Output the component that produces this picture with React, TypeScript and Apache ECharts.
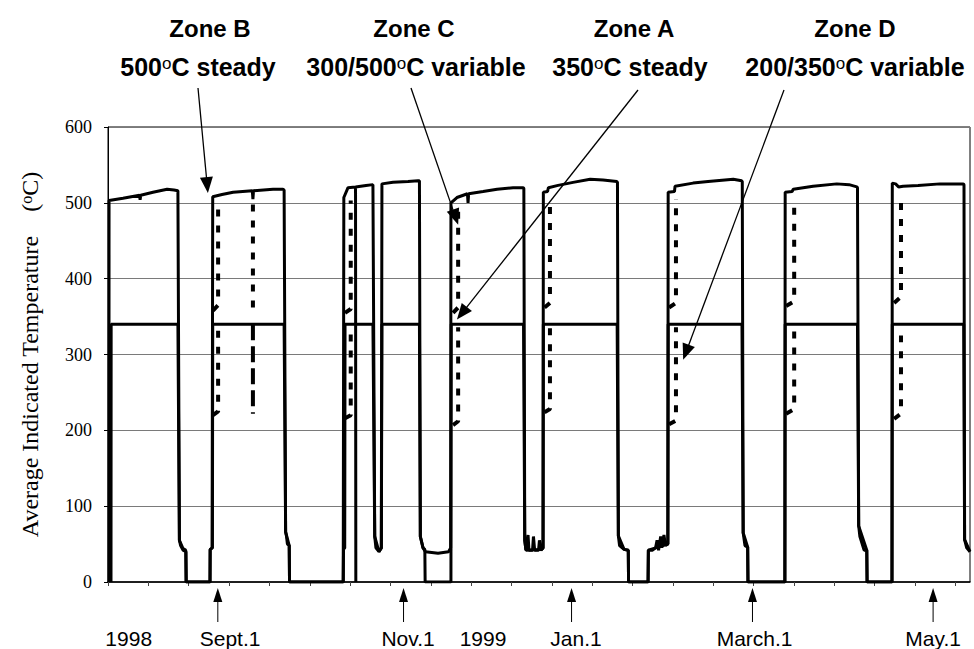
import React, { useEffect, useRef } from 'react';
import * as echarts from 'echarts';

// x values are days from the left edge of the record (about 3 px per day)
const X_MAX = 287.3;

// Zone B: 500 °C steady (upper solid trace)
const zoneB: any[] = [
  [0.3, 0], [0.35, 503], [5, 506], [10.5, 510], [10.7, 504], [10.9, 510], [15, 514], [19.7, 518], [22, 517], [23.3, 516],
  [23.8, 55], [24.2, 48], [25, 42], [26, 40], [26.1, 0],
  [34, 0], [34.05, 43], [34.7, 45], [34.9, 508], [38, 511], [41.7, 514], [48.1, 516], [48.3, 505], [48.5, 516], [55, 518], [58.3, 518],
  [58.7, 517], [59.2, 66], [59.5, 60], [59.8, 50], [60.4, 48], [60.5, 0],
  [78.4, 0], [78.6, 507], [80, 520], [82.5, 521], [82.6, 0], [82.6, null], [82.5, 521], [86, 523], [88.3, 524],
  [88.5, 524], [88.9, 60], [89.3, 45], [90.3, 40], [91.1, 45], [91.3, 525], [95, 527], [100, 528], [103.3, 529],
  [103.8, 529], [104.1, 60], [105, 45], [105.8, 40], [110, 38], [113.5, 40], [114.2, 45], [114.3, 500], [116.3, 507],
  [119.8, 512], [120, 500], [120.2, 512], [125, 515], [129.7, 518], [135, 520], [138.4, 520],
  [138.6, 519], [138.9, 55], [139.3, 42], [140, 62], [140.3, 42], [141.5, 42], [141.8, 60], [142.2, 42], [143.5, 42],
  [143.8, 55], [144.3, 42], [145, 45], [145.1, 514], [146.5, 515], [146.8, 520], [150, 523], [155, 527], [160.7, 531],
  [165, 530], [169.6, 528],
  [169.8, 527], [170.1, 61], [170.5, 48], [172, 43], [173.4, 42], [173.5, 0], [180, 0], [180.1, 42], [181.5, 42],
  [182.5, 45], [183, 55], [183.5, 42], [184.2, 60], [184.6, 45], [185.3, 62], [185.8, 48], [186.6, 50], [186.7, 514],
  [188.8, 515], [189, 522], [195, 526], [200, 528], [208.4, 531], [211.2, 529],
  [211.4, 528], [211.7, 65], [212.3, 48], [213.2, 46], [213.3, 0], [225.6, 0], [225.7, 514], [228, 515], [228.4, 518],
  [235, 522], [242.9, 525], [247, 524], [249.6, 521],
  [249.8, 520], [250.2, 74], [250.6, 60], [252, 42], [252.9, 42], [253, 0], [261.3, 0], [261.4, 526], [262.5, 525],
  [263.5, 521], [265, 522], [270, 523], [277.3, 525], [285.1, 525],
  [285.3, 524], [285.5, 56], [286.2, 45], [287.3, 40],
];

// Zone A: 350 °C steady (solid trace at ~340)
const zoneA: any[] = [
  [1.0, 0], [1.05, 340], [23.3, 340], [23.8, 55], [25, 44], [25.9, 42], [26, 0],
  [34, 0], [34.05, 43], [34.8, 45], [34.9, 340], [58.7, 340], [59.2, 66], [60.4, 48], [60.5, 0],
  [78.4, 0], [78.5, 43], [78.9, 45], [79.0, 340], [88.3, 340], [88.9, 60], [90.3, 40], [91.1, 45], [91.3, 340],
  [103.8, 340], [104.1, 60], [105, 45], [105.6, 43], [105.7, 0], [114.3, 0], [114.4, 340],
  [138.5, 340], [138.9, 55], [139.3, 42], [144.5, 43], [145, 45], [145.1, 340],
  [169.7, 340], [170.1, 61], [172, 43], [173.4, 42], [173.5, 0], [180, 0], [180.1, 42], [186.6, 50], [186.7, 340],
  [211.3, 340], [211.7, 65], [213.2, 46], [213.3, 0], [225.6, 0], [225.7, 340],
  [249.8, 340], [250.2, 74], [252.9, 42], [253, 0], [261.3, 0], [261.4, 340],
  [285.2, 340], [285.5, 56], [287.3, 40],
];

// Zone C: 300/500 °C variable (dotted transitions)
const zoneC: any[] = [
  [35.0, 358], [36.7, 365], [36.7, 500], [36.7, null],
  [48.3, 362], [48.3, 505], [48.3, null],
  [79.0, 355], [80.9, 360], [80.9, 503], [80.9, null],
  [115.0, 355], [116.7, 362], [116.7, 500], [116.7, null],
  [145.5, 362], [147.3, 368], [147.3, 500], [147.3, null],
  [187.0, 362], [189.3, 368], [189.3, 505], [189.3, null],
  [226.0, 364], [228.7, 370], [228.7, 505], [228.7, null],
  [262.0, 368], [264.3, 376], [264.3, 505],
];

// Zone D: 200/350 °C variable (dotted transitions)
const zoneD: any[] = [
  [35.0, 220], [36.7, 225], [36.7, 338], [36.7, null],
  [79.0, 216], [80.9, 220], [80.9, 336], [80.9, null],
  [115.0, 207], [116.7, 212], [116.7, 336], [116.7, null],
  [145.5, 224], [147.3, 228], [147.3, 337], [147.3, null],
  [187.0, 208], [189.3, 213], [189.3, 336], [189.3, null],
  [226.0, 222], [228.7, 228], [228.7, 336], [228.7, null],
  [262.0, 215], [264.3, 222], [264.3, 325],
];
// Zone D mid-cycle drop in September (dashed)
const zoneDMid: any[] = [[48.3, 340], [48.3, 222]];

// Date labels under the axis
const dateLabels = ['1998', 'Sept.1', 'Nov.1', '1999', 'Jan.1', 'March.1', 'May.1'];
const dateLabelDays = [6.9, 40.7, 100, 125, 156, 215.5, 275];
// Arrows marking dates
const dateArrowDays = [36.6, 98.5, 154.5, 214.8, 275];

// Zone annotations
const zoneNames = ['Zone B', 'Zone C', 'Zone A', 'Zone D'];
const zoneSettings = [
  ['500', 'C steady'],
  ['300/500', 'C variable'],
  ['350', 'C steady'],
  ['200/350', 'C variable'],
];
const zoneArrowTips = [[33.3, 513], [116.7, 471], [116.3, 346], [191.7, 293]];

export default function App() {
  const ref = useRef<HTMLDivElement>(null);
  useEffect(() => {
    if (!ref.current) return;
    const chart = echarts.init(ref.current, undefined, { renderer: 'svg' });
    const black = '#000';
    const tickDays: number[] = [];
    for (let i = 0; i <= 21; i++) tickDays.push(+(i * 13.45).toFixed(2));

    const option: any = {
      animation: false,
      backgroundColor: '#fff',
      grid: { left: 108, right: 4, top: 127, bottom: 66, show: true, borderColor: black, borderWidth: 1 },
      xAxis: {
        type: 'value', min: 0, max: X_MAX,
        axisLine: { lineStyle: { color: black, width: 1.5 } },
        axisTick: { show: true, length: 4, customValues: tickDays, lineStyle: { color: '#444' } },
        axisLabel: {
          customValues: dateLabelDays,
          margin: 46,
          fontFamily: 'Liberation Sans', fontSize: 21, color: black,
          formatter: (v: number) => {
            let best = 0;
            dateLabelDays.forEach((d, i) => { if (Math.abs(d - v) < Math.abs(dateLabelDays[best] - v)) best = i; });
            return dateLabels[best];
          },
        },
        splitLine: { show: false },
      },
      yAxis: {
        type: 'value', min: 0, max: 600, interval: 100,
        name: 'Average Indicated Temperature    ({sup|o}C)',
        nameLocation: 'middle', nameGap: 66, nameRotate: 90,
        nameTextStyle: {
          fontFamily: 'Liberation Serif', fontSize: 24, color: black,
          rich: { sup: { fontFamily: 'Liberation Serif', fontSize: 16, verticalAlign: 'top', color: black } },
        },
        axisLine: { show: true, lineStyle: { color: black, width: 1 } },
        axisTick: { show: true, length: 4, lineStyle: { color: black } },
        axisLabel: { fontFamily: 'Liberation Serif', fontSize: 18, color: black, margin: 16 },
        splitLine: { show: true, lineStyle: { color: '#7a7a7a', width: 1 } },
      },
      series: [
        { name: 'Zone A', type: 'line', data: zoneA, showSymbol: false, symbol: 'none', connectNulls: false,
          lineStyle: { color: black, width: 3 }, z: 3 },
        { name: 'Zone B', type: 'line', data: zoneB, showSymbol: false, symbol: 'none', connectNulls: false,
          lineStyle: { color: black, width: 3 }, z: 3 },
        { name: 'Zone C', type: 'line', data: zoneC, showSymbol: false, symbol: 'none', connectNulls: false,
          lineStyle: { color: black, width: 4, type: [7, 9], cap: 'butt' }, z: 4 },
        { name: 'Zone D', type: 'line', data: zoneD, showSymbol: false, symbol: 'none', connectNulls: false,
          lineStyle: { color: black, width: 4, type: [7, 9], cap: 'butt' }, z: 4 },
        { name: 'Zone D (Sept.)', type: 'line', data: zoneDMid, showSymbol: false, symbol: 'none',
          lineStyle: { color: black, width: 4, type: [16, 6], cap: 'butt' }, z: 4 },
      ],
    };
    chart.setOption(option);

    const toPx = (d: number, v: number) => chart.convertToPixel({ gridIndex: 0 }, [d, v]) as number[];
    const arrow = (x1: number, y1: number, x2: number, y2: number, headLen: number, headHalf: number, lw: number) => {
      const dx = x2 - x1, dy = y2 - y1;
      const L = Math.hypot(dx, dy);
      const ux = dx / L, uy = dy / L;
      const bx = x2 - ux * headLen, by = y2 - uy * headLen;
      const nx = -uy, ny = ux;
      return [
        { type: 'line', silent: true, z: 100, shape: { x1, y1, x2: bx + ux * 2, y2: by + uy * 2 }, style: { stroke: black, lineWidth: lw } },
        { type: 'polygon', silent: true, z: 100, shape: { points: [[x2, y2], [bx + nx * headHalf, by + ny * headHalf], [bx - nx * headHalf, by - ny * headHalf]] }, style: { fill: black } },
      ];
    };

    const graphics: any[] = [];
    // date arrows under the axis
    const zeroY = toPx(0, 0)[1];
    dateArrowDays.forEach((d) => {
      const x = toPx(d, 0)[0];
      graphics.push(...arrow(x, zeroY + 40, x, zeroY + 6, 14, 4.5, 1));
    });
    // zone labels and arrows
    const labelCx = [210, 414, 634, 855];
    const arrowStart = [[198, 88], [411, 88], [638, 90], [784, 90]];
    zoneNames.forEach((nm, i) => {
      graphics.push({
        type: 'text', silent: true, z: 100, x: labelCx[i], y: 28,
        style: { text: nm, fontFamily: 'Liberation Sans', fontWeight: 'bold', fontSize: 24, fill: black, align: 'center', verticalAlign: 'middle' },
      });
      graphics.push({
        type: 'text', silent: true, z: 100, x: [198, 416, 630, 855][i], y: 67,
        style: {
          text: zoneSettings[i][0] + '{sup|o}' + zoneSettings[i][1],
          fontFamily: 'Liberation Sans', fontWeight: 'bold', fontSize: 25, fill: black, align: 'center', verticalAlign: 'middle',
          rich: { sup: { fontFamily: 'Liberation Sans', fontWeight: 'normal', fontSize: 17, verticalAlign: 'top', fill: black } },
        },
      });
      const tip = toPx(zoneArrowTips[i][0], zoneArrowTips[i][1]);
      graphics.push(...arrow(arrowStart[i][0], arrowStart[i][1], tip[0], tip[1], 16, 6.5, 1.3));
    });
    chart.setOption({ graphic: graphics });

    return () => chart.dispose();
  }, []);
  return <div ref={ref} style={{ position: 'absolute', left: 0, top: 0, width: 974, height: 649 }} />;
}
